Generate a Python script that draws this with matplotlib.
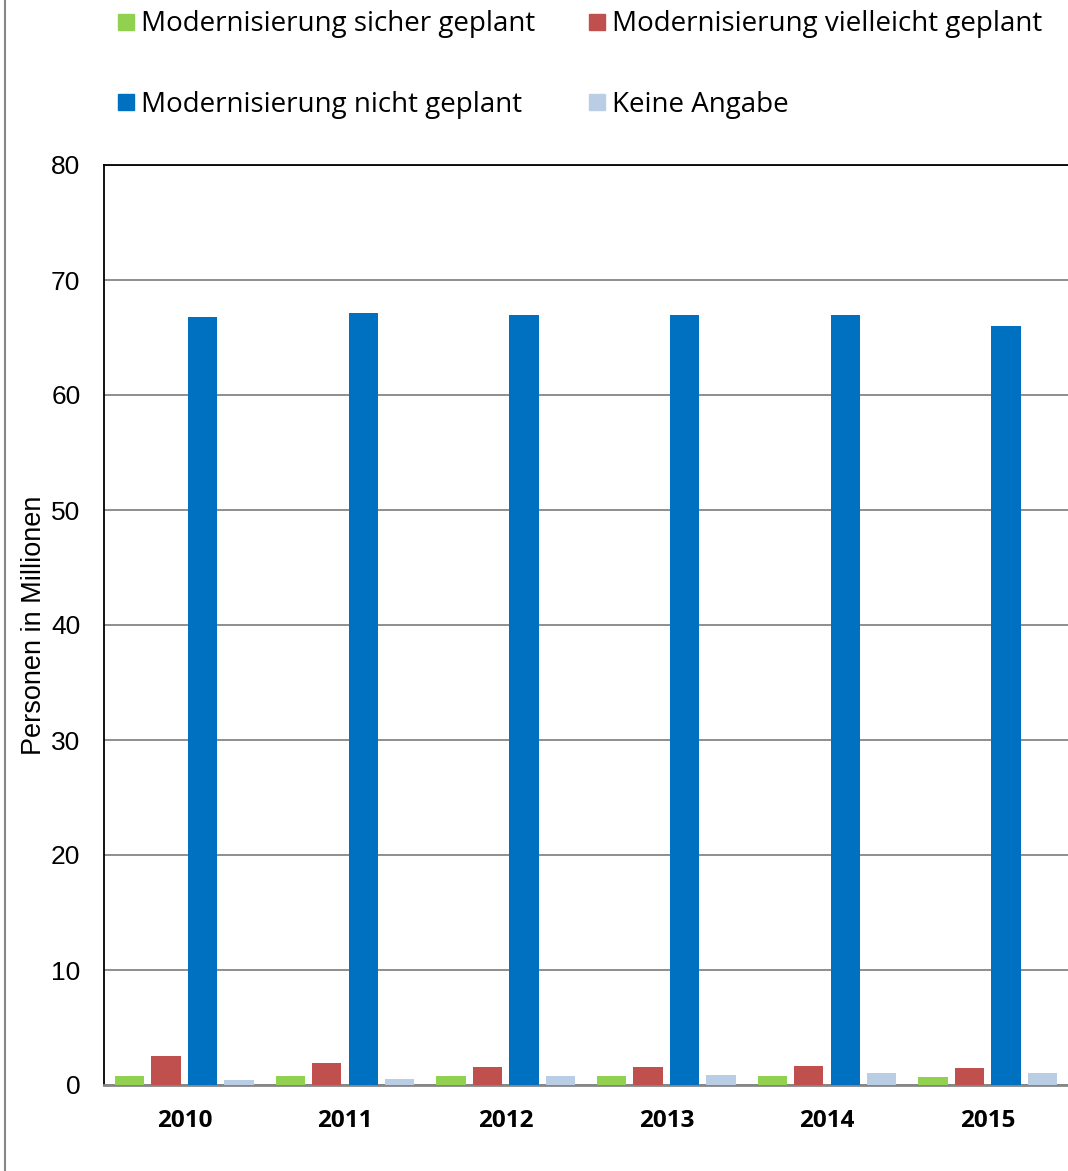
import numpy as np
import matplotlib
matplotlib.use("Agg")
import matplotlib.pyplot as plt
from matplotlib.lines import Line2D

years = ["2010", "2011", "2012", "2013", "2014", "2015"]
labels = ["Modernisierung sicher geplant", "Modernisierung vielleicht geplant",
          "Modernisierung nicht geplant", "Keine Angabe"]
sicher = [0.75, 0.75, 0.8, 0.8, 0.8, 0.67]
vielleicht = [2.5, 1.95, 1.6, 1.55, 1.68, 1.5]
nicht = [66.8, 67.1, 67.0, 67.0, 67.0, 66.0]
keine = [0.43, 0.52, 0.8, 0.9, 1.04, 1.07]
colors = ["#92d050", "#c0504d", "#0070c0", "#b9cde5"]

fig = plt.figure(figsize=(10.68, 11.71), dpi=100)
ax = fig.add_axes([104/1068, 1 - 1085/1171, 1 - 104/1068, (1085 - 165)/1171])

x = np.arange(len(years))
step = 0.227
w = 0.182
series = [sicher, vielleicht, nicht, keine]
for i, vals in enumerate(series):
    ax.bar(x + (i - 1.5)*step, vals, w, color=colors[i], label=labels[i], zorder=3)

ax.set_xlim(-0.5, 5.5)
ax.set_ylim(0, 80)
ax.set_yticks(range(0, 81, 10))
ax.yaxis.grid(True, color="#868686", linewidth=1.3, zorder=0)
ax.set_xticks(x)
ax.set_xticklabels(years, fontfamily="Open Sans", fontweight="bold", fontsize=17.5)
ax.tick_params(axis="x", length=0, pad=17)
ax.tick_params(axis="y", length=0, labelsize=19, pad=17)
for t in ax.get_yticklabels():
    t.set_fontfamily("Liberation Sans")
ax.set_ylabel("Personen in Millionen", fontfamily="Liberation Sans", fontsize=19.5, labelpad=3)

ax.spines["right"].set_visible(False)
ax.spines["left"].set_color("black")
ax.spines["top"].set_color("black")
ax.spines["bottom"].set_color("#868686")
ax.spines["bottom"].set_linewidth(2)
ax.spines["left"].set_linewidth(1.3)
ax.spines["top"].set_linewidth(1.3)

# legend is filled column by column, so order it for rows: sicher|vielleicht, nicht|keine
order = [0, 2, 1, 3]
handles = [Line2D([], [], marker="s", linestyle="none", markersize=11,
                  color=colors[i]) for i in order]
fig.legend(handles, [labels[i] for i in order], loc="upper left",
           bbox_to_anchor=(87/1068, 1.0125),
           ncol=2, frameon=False, prop={"family": "Open Sans", "size": 20},
           handletextpad=0.05, columnspacing=1.7, labelspacing=1.9, handlelength=1.0)

# outer frame line at the left
fig.add_artist(Line2D([5/1068, 5/1068], [0, 1], color="#868686", linewidth=1.5))

fig.savefig("out.png", dpi=100)
